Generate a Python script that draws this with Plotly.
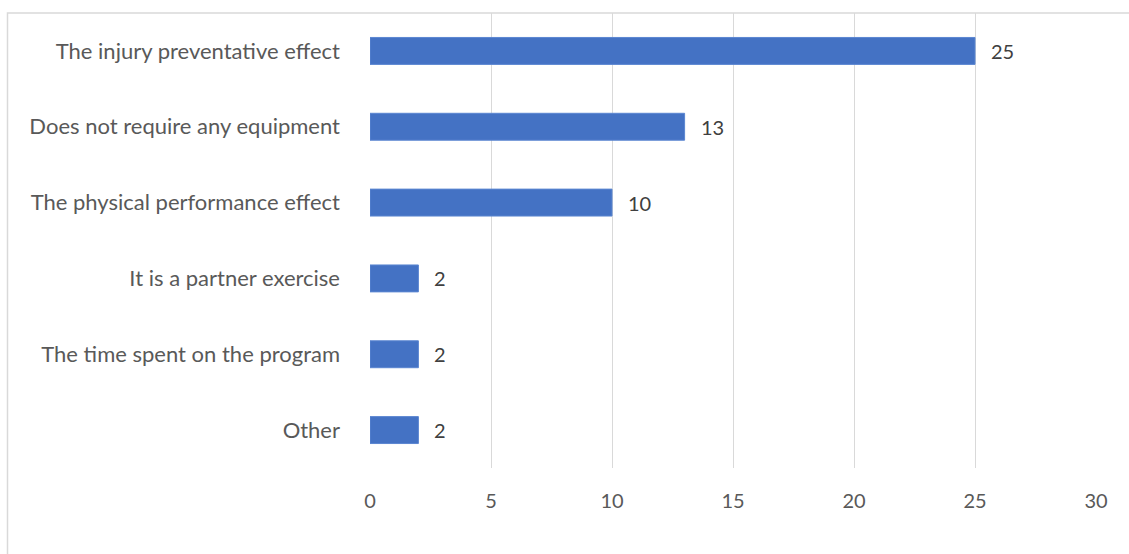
import plotly.graph_objects as go

categories = [
    "The injury preventative effect",
    "Does not require any equipment",
    "The physical performance effect",
    "It is a partner exercise",
    "The time spent on the program",
    "Other",
]
counts = [25, 13, 10, 2, 2, 2]
x_ticks = [0, 5, 10, 15, 20, 25, 30]

W, H = 1129, 554
L, R, T, B = 370, 33, 12.5, 85.5
pw, ph = W - L - R, H - T - B

fig = go.Figure(
    go.Bar(
        y=categories,
        x=counts,
        orientation="h",
        width=0.355,
        marker=dict(color="#4472C4", line=dict(color="#5B86D1", width=1)),
        hoverinfo="x+y",
    )
)

# value labels to the right of each bar
for cat, val in zip(categories, counts):
    fig.add_annotation(
        x=val,
        y=cat,
        text=str(val),
        showarrow=False,
        xanchor="left",
        yanchor="middle",
        xshift=14,
        font=dict(family="Lato", size=20, color="#404040"),
    )

fig.update_layout(
    width=W,
    height=H,
    margin=dict(l=L, r=R, t=T, b=B),
    paper_bgcolor="white",
    plot_bgcolor="white",
    showlegend=False,
    xaxis=dict(
        range=[0, 30],
        tickvals=x_ticks,
        showgrid=True,
        gridcolor="#D9D9D9",
        gridwidth=1,
        zeroline=False,
        showline=False,
        ticks="",
        ticklabelstandoff=19,
        tickfont=dict(family="Lato", size=20, color="#595959"),
    ),
    yaxis=dict(
        categoryorder="array",
        categoryarray=categories[::-1],
        showgrid=False,
        zeroline=False,
        showline=False,
        ticks="",
        ticklabelstandoff=29,
        tickfont=dict(family="Lato", size=22, color="#595959"),
    ),
)

# light frame around the chart area
fig.add_shape(
    type="rect",
    xref="paper",
    yref="paper",
    x0=(7.5 - L) / pw,
    x1=(W + 5 - L) / pw,
    y0=1 - (H + 5 - T) / ph,
    y1=1.0,
    line=dict(color="#D9D9D9", width=1.5),
    fillcolor="rgba(0,0,0,0)",
    layer="below",
)

fig.write_html("out.html")
